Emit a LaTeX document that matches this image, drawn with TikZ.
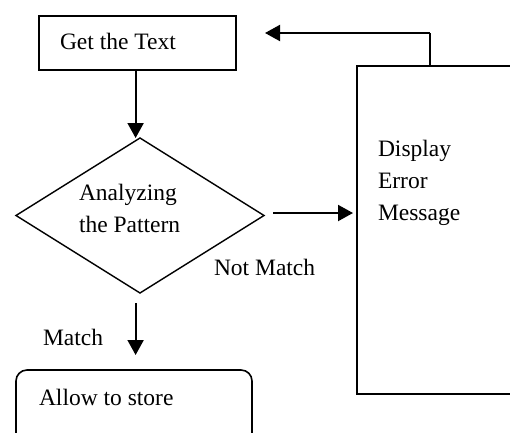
\documentclass[tikz,border=0pt]{standalone}
\usepackage{fontspec}
\setmainfont{Liberation Serif}
\usetikzlibrary{arrows.meta,shapes.geometric,calc}

\tikzset{
  shapebox/.style={draw=black, line width=1.6pt, inner sep=0pt, outer sep=0pt},
  label/.style={anchor=base west, inner sep=0pt, outer sep=0pt,
                font=\fontsize{23.5}{28}\selectfont},
  flow/.style={line width=2pt, -{Triangle[width=16pt,length=15pt]}},
  plainline/.style={line width=2pt}
}

\begin{document}
\begin{tikzpicture}[x=1pt,y=-1pt]
  \useasboundingbox (0,0) rectangle (510,432);
  \clip (0,0) rectangle (510,432);

  % process boxes
  \node[shapebox, minimum width=197pt, minimum height=54pt] (get) at (137.5,43) {};
  \node[shapebox, diamond, line width=1.4pt, minimum width=248pt, minimum height=155pt] (dec) at (140,215.5) {};
  \node[shapebox, minimum width=173pt, minimum height=328pt] (err) at (443.5,230) {};
  \node[shapebox, rounded corners=11pt, minimum width=236pt, minimum height=80pt] (store) at (134,410) {};

  % texts
  \node[label] (tget) at (60,49) {Get the Text};
  \node[label] (tana1) at (79,200) {Analyzing};
  \node[label] (tana2) at (79,232) {the Pattern};
  \node[label] (tdisp) at (378,156) {Display};
  \node[label] (terr) at (378,188) {Error};
  \node[label] (tmsg) at (378,220) {Message};
  \node[label] (tnot) at (214,275) {Not Match};
  \node[label] (tmatch) at (43,345) {Match};
  \node[label] (tstore) at (39,405) {Allow to store};

  % connector end points
  \coordinate (down1) at (135.6,70);
  \coordinate (nm0) at (273,213);
  \coordinate (m0) at (135.6,303);
  \coordinate (fb) at (430,33);
  \coordinate (fbend) at (265,33);

  % connectors
  \draw[flow] (down1 |- get.south) -- (down1 |- dec.north);
  \draw[flow] (nm0) -- ($(nm0 -| err.west)+(-4,0)$);
  \draw[flow] (m0) -- ($(m0 |- store.north)+(0,-15)$);
  \draw[plainline] (fb |- err.north) -- (fb);
  \draw[flow] (fb) -- (fbend);
\end{tikzpicture}
\end{document}
